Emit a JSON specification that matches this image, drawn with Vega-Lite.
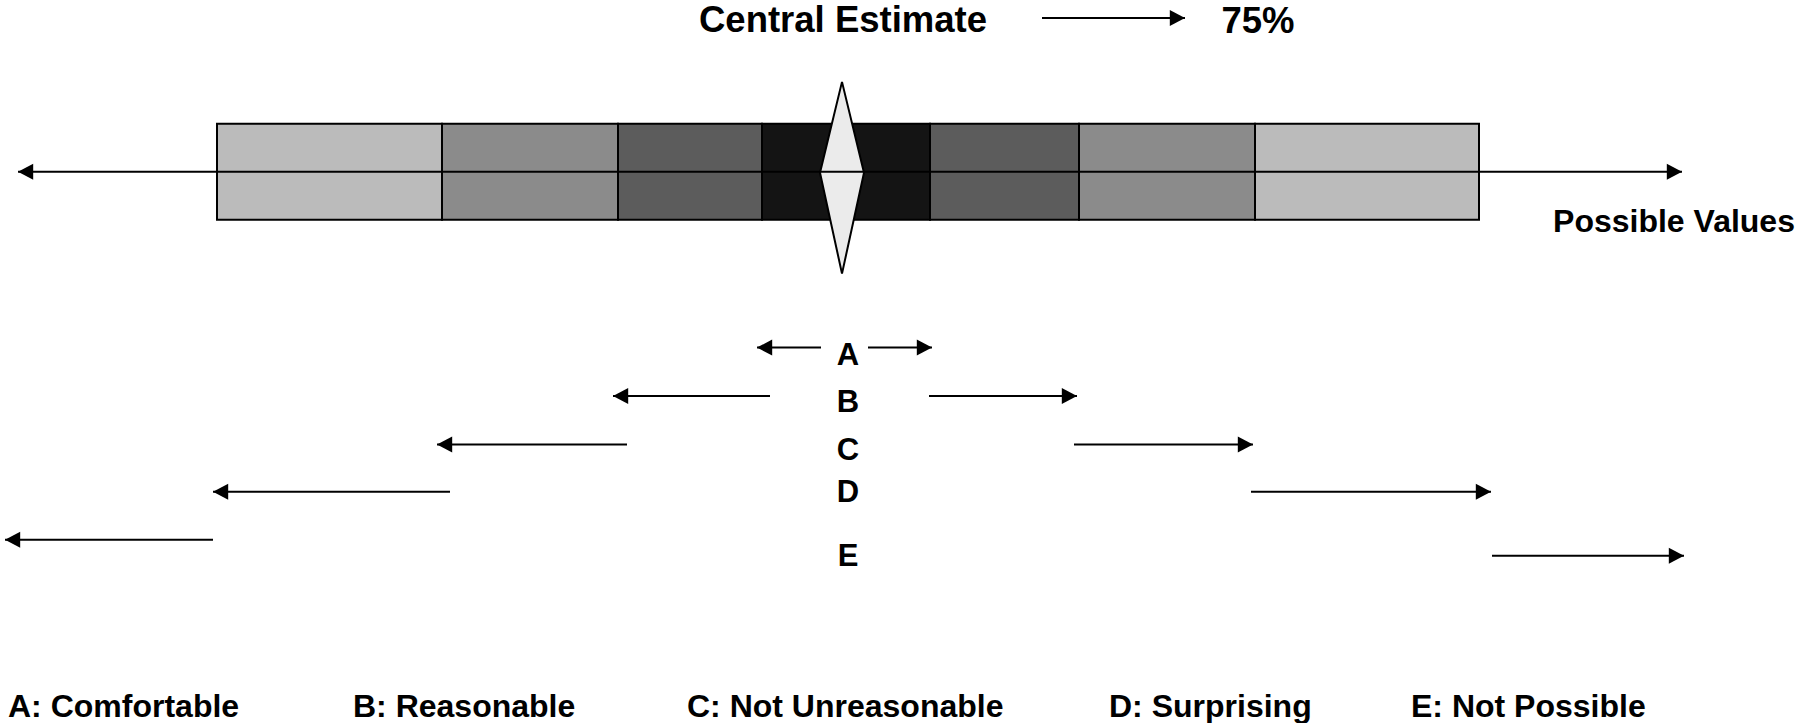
{
  "$schema": "https://vega.github.io/schema/vega-lite/v6.json",
  "width": 1796,
  "height": 723,
  "autosize": {"type": "fit", "contains": "padding"},
  "padding": 0,
  "background": "white",
  "config": {"view": {"stroke": null}, "text": {"font": "Liberation Sans", "fontWeight": "bold", "color": "black"}},
  "datasets": {
    "segments": [
      {"zone": "D", "start": 217, "end": 442, "top": 124, "bottom": 220},
      {"zone": "C", "start": 442, "end": 618, "top": 124, "bottom": 220},
      {"zone": "B", "start": 618, "end": 762, "top": 124, "bottom": 220},
      {"zone": "A", "start": 762, "end": 930, "top": 124, "bottom": 220},
      {"zone": "B", "start": 930, "end": 1079, "top": 124, "bottom": 220},
      {"zone": "C", "start": 1079, "end": 1255, "top": 124, "bottom": 220},
      {"zone": "D", "start": 1255, "end": 1479, "top": 124, "bottom": 220}
    ],
    "diamond": [
      {"x": 820, "top": 173, "bottom": 173},
      {"x": 842, "top": 82, "bottom": 274},
      {"x": 864, "top": 173, "bottom": 173}
    ],
    "arrows": [
      {"name": "main", "tail": 842, "tip": 18, "y": 172, "dir": "left"},
      {"name": "main", "tail": 842, "tip": 1682, "y": 172, "dir": "right"},
      {"name": "title", "tail": 1042, "tip": 1185, "y": 18, "dir": "right"},
      {"name": "A", "tail": 821, "tip": 757, "y": 348, "dir": "left"},
      {"name": "A", "tail": 868, "tip": 932, "y": 348, "dir": "right"},
      {"name": "B", "tail": 770, "tip": 613, "y": 396.5, "dir": "left"},
      {"name": "B", "tail": 929, "tip": 1077, "y": 396.5, "dir": "right"},
      {"name": "C", "tail": 627, "tip": 437, "y": 445, "dir": "left"},
      {"name": "C", "tail": 1074, "tip": 1253, "y": 445, "dir": "right"},
      {"name": "D", "tail": 450, "tip": 213, "y": 492.5, "dir": "left"},
      {"name": "D", "tail": 1251, "tip": 1491, "y": 492.5, "dir": "right"},
      {"name": "E", "tail": 213, "tip": 5, "y": 540.5, "dir": "left"},
      {"name": "E", "tail": 1492, "tip": 1684, "y": 556.5, "dir": "right"}
    ],
    "letters": [
      {"label": "A", "x": 848, "y": 366},
      {"label": "B", "x": 848, "y": 412.5},
      {"label": "C", "x": 848, "y": 460.5},
      {"label": "D", "x": 848, "y": 503},
      {"label": "E", "x": 848, "y": 567}
    ],
    "legend": [
      {"label": "A: Comfortable", "x": 8, "y": 718},
      {"label": "B: Reasonable", "x": 353, "y": 718},
      {"label": "C: Not Unreasonable", "x": 687, "y": 718},
      {"label": "D: Surprising", "x": 1109, "y": 718},
      {"label": "E: Not Possible", "x": 1411, "y": 718}
    ],
    "titles": [
      {"label": "Central Estimate", "x": 843, "y": 32},
      {"label": "75%", "x": 1258, "y": 33}
    ],
    "axislabel": [
      {"label": "Possible Values", "x": 1674, "y": 232}
    ]
  },
  "layer": [
    {
      "data": {"name": "segments"},
      "mark": {"type": "rect", "stroke": "black", "strokeWidth": 2},
      "encoding": {
        "x": {"field": "start", "type": "quantitative", "scale": {"domain": [0, 1796], "nice": false, "zero": false}, "axis": null},
        "x2": {"field": "end"},
        "y": {"field": "top", "type": "quantitative", "scale": {"domain": [0, 723], "nice": false, "zero": false, "reverse": true}, "axis": null},
        "y2": {"field": "bottom"},
        "fill": {"field": "zone", "type": "nominal", "scale": {"domain": ["A", "B", "C", "D"], "range": ["#141414", "#5c5c5c", "#8b8b8b", "#bbbbbb"]}, "legend": null}
      }
    },
    {
      "data": {"name": "diamond"},
      "mark": {"type": "area", "fill": "#ebebeb", "stroke": "black", "strokeWidth": 2, "interpolate": "linear", "orient": "vertical"},
      "encoding": {
        "x": {"field": "x", "type": "quantitative"},
        "y": {"field": "top", "type": "quantitative"},
        "y2": {"field": "bottom"}
      }
    },
    {
      "data": {"name": "arrows"},
      "mark": {"type": "rule", "stroke": "black", "strokeWidth": 2},
      "encoding": {
        "x": {"field": "tail", "type": "quantitative"},
        "x2": {"field": "tip"},
        "y": {"field": "y", "type": "quantitative"}
      }
    },
    {
      "data": {"name": "arrows"},
      "mark": {"type": "point", "filled": true, "fill": "black", "opacity": 1, "strokeWidth": 0, "size": 256},
      "encoding": {
        "x": {"field": "tip", "type": "quantitative"},
        "y": {"field": "y", "type": "quantitative"},
        "shape": {"field": "dir", "type": "nominal", "scale": {"domain": ["left", "right"], "range": ["M0,0L1.9,-1L1.9,1Z", "M0,0L-1.9,-1L-1.9,1Z"]}, "legend": null}
      }
    },
    {
      "data": {"name": "titles"},
      "mark": {"type": "text", "fontSize": 36.5, "align": "center", "baseline": "alphabetic"},
      "encoding": {
        "x": {"field": "x", "type": "quantitative"},
        "y": {"field": "y", "type": "quantitative"},
        "text": {"field": "label"}
      }
    },
    {
      "data": {"name": "axislabel"},
      "mark": {"type": "text", "fontSize": 32, "align": "center", "baseline": "alphabetic"},
      "encoding": {
        "x": {"field": "x", "type": "quantitative"},
        "y": {"field": "y", "type": "quantitative"},
        "text": {"field": "label"}
      }
    },
    {
      "data": {"name": "letters"},
      "mark": {"type": "text", "fontSize": 31, "align": "center", "baseline": "alphabetic"},
      "encoding": {
        "x": {"field": "x", "type": "quantitative"},
        "y": {"field": "y", "type": "quantitative"},
        "text": {"field": "label"}
      }
    },
    {
      "data": {"name": "legend"},
      "mark": {"type": "text", "fontSize": 32, "align": "left", "baseline": "alphabetic"},
      "encoding": {
        "x": {"field": "x", "type": "quantitative"},
        "y": {"field": "y", "type": "quantitative"},
        "text": {"field": "label"}
      }
    }
  ]
}
